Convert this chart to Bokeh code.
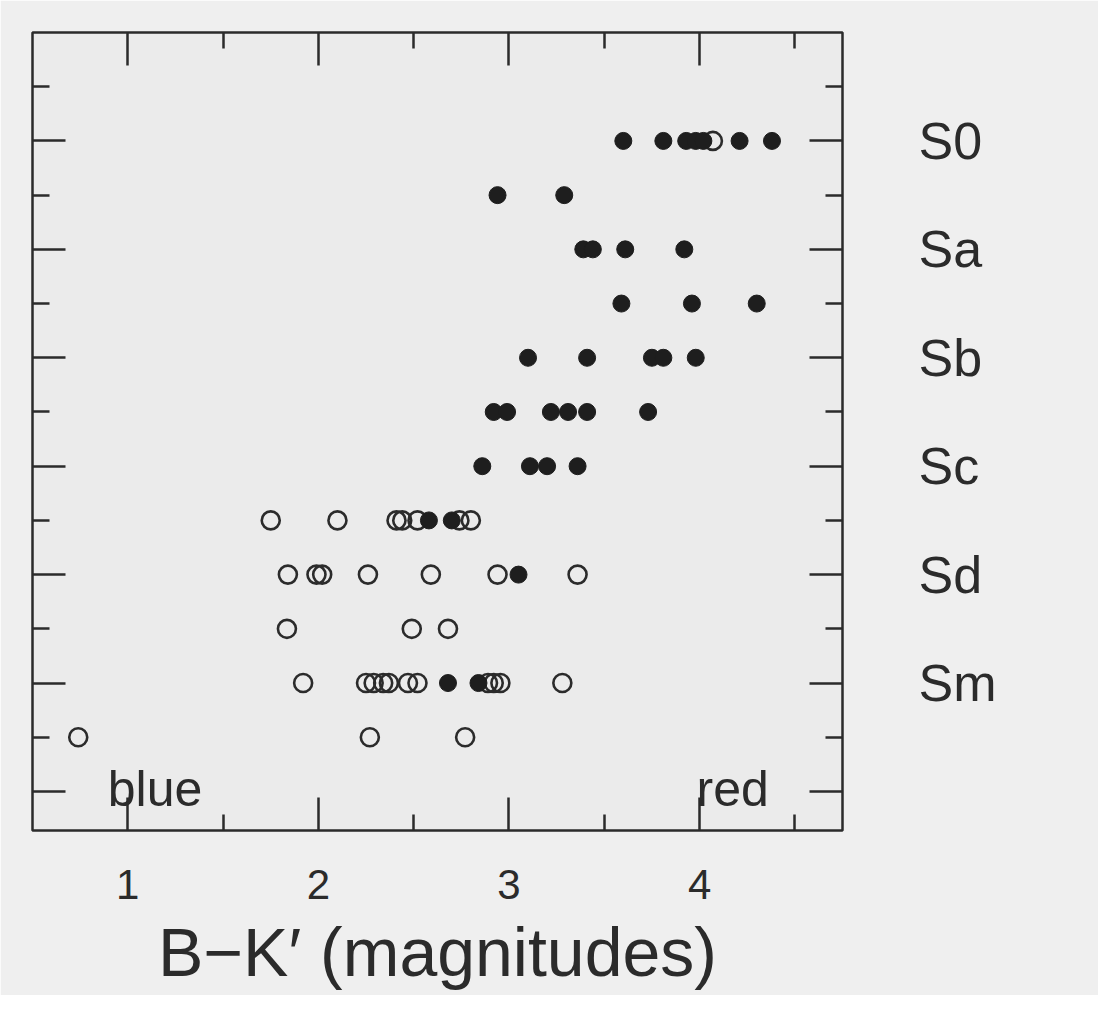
from bokeh.plotting import figure
from bokeh.models import LinearAxis, FixedTicker, Range1d, Label
from bokeh.embed import file_html
from bokeh.resources import INLINE

# ---- data ----
# numerical morphological type (T): S0=-1, Sa=1, Sb=3, Sc=5, Sd=7, Sm=9, Im=10
filled_bk = [3.60, 3.81, 3.93, 3.98, 4.02, 4.21, 4.38,
             2.94, 3.29,
             3.39, 3.44, 3.61, 3.92,
             3.59, 3.96, 4.30,
             3.10, 3.41, 3.75, 3.81, 3.98,
             2.92, 2.99, 3.22, 3.31, 3.41, 3.73,
             2.86, 3.11, 3.20, 3.36,
             2.58, 2.70,
             3.05,
             2.68, 2.84]
filled_t = [-1, -1, -1, -1, -1, -1, -1,
            0, 0,
            1, 1, 1, 1,
            2, 2, 2,
            3, 3, 3, 3, 3,
            4, 4, 4, 4, 4, 4,
            5, 5, 5, 5,
            6, 6,
            7,
            9, 9]
open_bk = [4.07,
           1.75, 2.10, 2.41, 2.44, 2.52, 2.74, 2.80,
           1.84, 1.99, 2.02, 2.26, 2.59, 2.94, 3.36,
           1.835, 2.49, 2.68,
           1.92, 2.25, 2.29, 2.34, 2.37, 2.47, 2.52, 2.89, 2.92, 2.955, 3.28,
           0.74, 2.27, 2.77]
open_t = [-1,
          6, 6, 6, 6, 6, 6, 6,
          7, 7, 7, 7, 7, 7, 7,
          8, 8, 8,
          9, 9, 9, 9, 9, 9, 9, 9, 9, 9, 9,
          10, 10, 10]

x_major = [1, 2, 3, 4]
x_minor = [1.5, 2.5, 3.5, 4.5]
y_major = [-1, 1, 3, 5, 7, 9, 11]
y_minor = [-2, 0, 2, 4, 6, 8, 10]
type_ticks = [-1, 1, 3, 5, 7, 9, 11]
type_names = ["S0", "Sa", "Sb", "Sc", "Sd", "Sm", ""]

INK = "#2b2b2b"
FONT = "Liberation Sans"

p = figure(width=1098, height=995,
           x_range=Range1d(0.5, 4.75), y_range=Range1d(11.72, -3),
           output_backend="svg", toolbar_location=None,
           x_axis_location="below", y_axis_location="right",
           min_border_left=32, min_border_top=32,
           min_border_right=256, min_border_bottom=165)

p.background_fill_color = "#ebebeb"
p.border_fill_color = "#efefef"
p.outline_line_color = INK
p.outline_line_width = 2.5
p.grid.visible = False


def style_axis(ax, major, minor, long_len, short_len):
    ax.ticker = FixedTicker(ticks=major, minor_ticks=minor)
    ax.axis_line_color = None
    ax.major_tick_in = long_len
    ax.major_tick_out = 0
    ax.minor_tick_in = short_len
    ax.minor_tick_out = 0
    ax.major_tick_line_color = INK
    ax.minor_tick_line_color = INK
    ax.major_tick_line_width = 2.5
    ax.minor_tick_line_width = 2.5
    ax.major_label_text_color = INK
    ax.major_label_text_font = FONT


# bottom axis
xb = p.xaxis[0]
style_axis(xb, x_major, x_minor, 33, 16)
xb.major_label_text_font_size = "42px"
xb.major_label_standoff = 39
xb.axis_label = "B\u2212K\u2032 (magnitudes)"
xb.axis_label_text_font = FONT
xb.axis_label_text_font_size = "68px"
xb.axis_label_text_font_style = "normal"
xb.axis_label_text_color = INK
xb.axis_label_standoff = 12

# right axis with type names
yr = p.yaxis[0]
style_axis(yr, y_major, y_minor, 33, 17)
yr.major_label_overrides = {t: n for t, n in zip(type_ticks, type_names)}
yr.major_label_text_font_size = "52px"
yr.major_label_standoff = 76

# top axis (ticks only)
xt = LinearAxis()
style_axis(xt, x_major, x_minor, 33, 16)
xt.major_label_overrides = {t: "" for t in x_major}
xt.major_label_text_font_size = "1px"
xt.major_label_standoff = 0
p.add_layout(xt, "above")

# left axis (ticks only)
yl = LinearAxis()
style_axis(yl, y_major, y_minor, 33, 17)
yl.major_label_overrides = {t: "" for t in y_major}
yl.major_label_text_font_size = "1px"
yl.major_label_standoff = 0
p.add_layout(yl, "left")

# points
p.scatter(open_bk, open_t, marker="circle", size=18, fill_color=None,
          line_color=INK, line_width=2.6)
p.scatter(filled_bk, filled_t, marker="circle", size=17, fill_color="#1e1e1e",
          line_color="#1e1e1e", line_width=1)

p.add_layout(Label(x=0.895, y=10.95, text="blue", text_font=FONT,
                   text_font_size="50px", text_color=INK,
                   text_align="left", text_baseline="alphabetic"))
p.add_layout(Label(x=4.363, y=10.95, text="red", text_font=FONT,
                   text_font_size="50px", text_color=INK,
                   text_align="right", text_baseline="alphabetic"))

open("out.html", "w").write(file_html(p, INLINE))
